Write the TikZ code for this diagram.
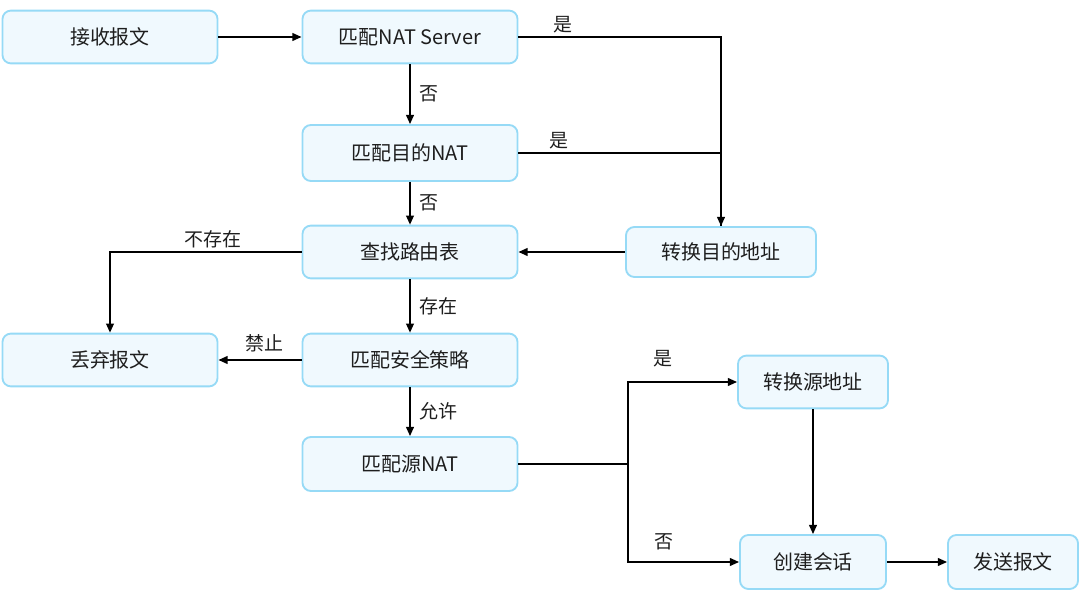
\documentclass[tikz,border=0pt]{standalone}
\usepackage{fontspec}
\setmainfont{Noto Sans CJK SC}
\definecolor{boxline}{RGB}{150, 218, 246}
\definecolor{boxfill}{RGB}{240, 249, 254}
\definecolor{txtgray}{RGB}{30, 30, 30}
\usetikzlibrary{arrows.meta, positioning, calc}

\begin{document}
\begin{tikzpicture}[
  x=0.025cm, y=-0.025cm,
  flowbox/.style={draw=boxline, fill=boxfill, line width=1.3pt, rounded corners=6pt, minimum width=5.375cm, minimum height=1.32cm, inner sep=0pt, text=txtgray, font=\fontsize{14.2}{17}\selectfont},
  arr/.style={-{Triangle[length=6.5pt, width=5.5pt]}, line width=1.2pt},
  lnk/.style={line width=1.2pt},
  lbl/.style={text=txtgray, font=\fontsize{13.5}{16}\selectfont, inner sep=2pt}
]
  \useasboundingbox (0,0) rectangle (1080,590);

  \node[flowbox] (recv) at (110, 37) {接收报文};
  \node[flowbox] (nats) at (410, 37) {匹配NAT Server};
  \node[flowbox, minimum height=1.4cm] (dnat) at (410, 153) {匹配目的NAT};
  \node[flowbox] (route) at (410, 252) {查找路由表};
  \node[flowbox, minimum width=4.75cm, minimum height=1.25cm] (dstaddr) at (721, 252) {转换目的地址};
  \node[flowbox] (drop) at (110, 360) {丢弃报文};
  \node[flowbox] (sec) at (410, 360) {匹配安全策略};
  \node[flowbox, minimum height=1.35cm] (snat) at (410, 464) {匹配源NAT};
  \node[flowbox, minimum width=3.75cm] (srcaddr) at (813, 382) {转换源地址};
  \node[flowbox, minimum width=3.65cm, minimum height=1.35cm] (session) at (813, 562) {创建会话};
  \node[flowbox, minimum width=3.25cm, minimum height=1.35cm] (send) at (1013, 562) {发送报文};
  \coordinate (fork) at (628, 464);

  \draw[arr] (recv) -- (nats);
  \draw[arr] (nats.east) -| node[lbl, above, pos=0.11] (yes1) {是} (dstaddr.north);
  \draw[lnk] (dnat.east) -| node[lbl, above, pos=0.1] (yes2) {是} (dstaddr.north);
  \draw[arr] (nats) -- node[lbl, right=4pt] (no1) {否} (dnat);
  \draw[arr] (dnat) -- node[lbl, right=4pt] (no2) {否} (route);
  \draw[arr] (dstaddr) -- (route);
  \draw[arr] (route.west) -| node[lbl, above, pos=0.23] (miss) {不存在} (drop.north);
  \draw[arr] (route) -- node[lbl, right=4pt] (hit) {存在} (sec);
  \draw[arr] (sec) -- node[lbl, above=3pt, pos=0.45] (deny) {禁止} (drop);
  \draw[arr] (sec) -- node[lbl, right=4pt] (allow) {允许} (snat);
  \draw[lnk] (snat.east) -- (fork);
  \draw[arr] (fork) |- node[lbl, above=8pt, pos=0.66] (yes3) {是} (srcaddr.west);
  \draw[arr] (fork) |- node[lbl, above=6pt, pos=0.66] (no3) {否} (session.west);
  \draw[arr] (srcaddr) -- (session);
  \draw[arr] (session) -- (send);
\end{tikzpicture}
\end{document}
